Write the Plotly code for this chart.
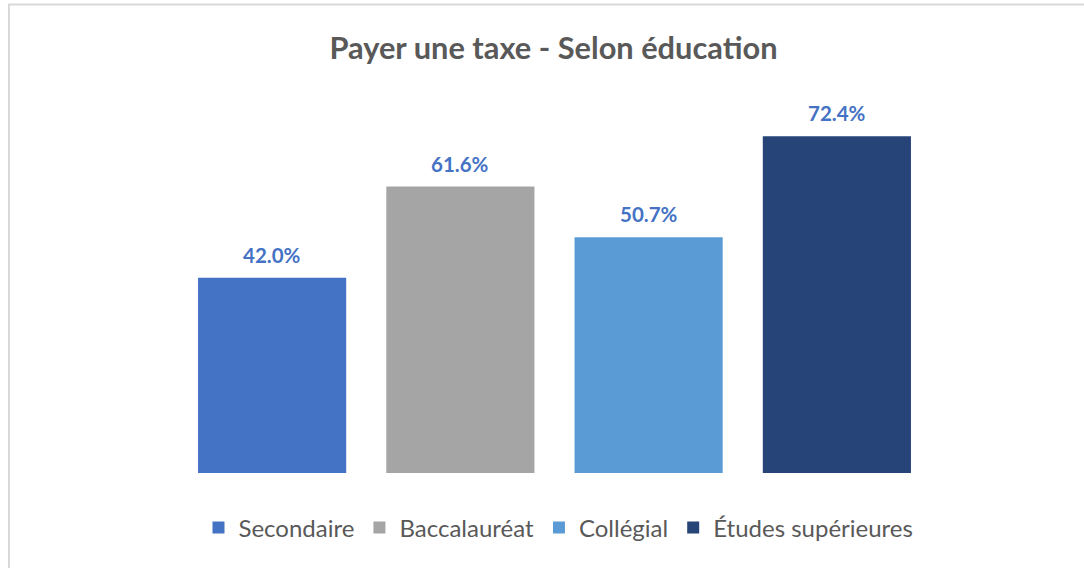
import plotly.graph_objects as go

categories = ["Secondaire", "Baccalauréat", "Collégial", "Études supérieures"]
values = [42.0, 61.6, 50.7, 72.4]
colors = ["#4472C4", "#A5A5A5", "#5B9BD5", "#264478"]
title_text = "Payer une taxe - Selon éducation"

W, H = 1084, 568
ml, mr, mt, mb = 178, 153, 101, 95

fig = go.Figure()
for cat, val, col in zip(categories, values, colors):
    fig.add_trace(go.Bar(
        x=[cat], y=[val], name=cat, marker=dict(color=col, line=dict(width=0)),
        width=0.787, hoverinfo="skip",
    ))
    fig.add_annotation(x=cat, y=val, text=f"{val:.1f}%", showarrow=False,
                       yanchor="bottom", yshift=9,
                       font=dict(family="Lato", size=20.5, color="#4472C4", weight="bold"))

pw = W - ml - mr
ph = H - mt - mb
def px2x(p):
    return (p - ml) / pw
def py2y(p):
    return 1 - (p - mt) / ph

fig.add_shape(type="line", xref="paper", yref="paper",
              x0=px2x(8), x1=px2x(1100), y0=py2y(4.5), y1=py2y(4.5),
              line=dict(color="#D9D9D9", width=2))
fig.add_shape(type="line", xref="paper", yref="paper",
              x0=px2x(9), x1=px2x(9), y0=py2y(4.5), y1=py2y(600),
              line=dict(color="#D9D9D9", width=2))

fig.update_layout(
    width=W, height=H,
    margin=dict(l=ml, r=mr, t=mt, b=mb),
    paper_bgcolor="white", plot_bgcolor="white",
    barmode="relative",
    title=dict(text=title_text, x=553.5 / W, xref="container", xanchor="center",
               y=1 - 48 / H, yref="container", yanchor="middle",
               font=dict(family="Lato", size=30.8, color="#595959", weight="bold")),
    xaxis=dict(visible=False, categoryorder="array", categoryarray=categories),
    yaxis=dict(visible=False, range=[0, 80]),
    legend=dict(orientation="h", x=(558.5 - ml) / pw, xanchor="center",
                y=-55 / ph, yanchor="middle",
                font=dict(family="Lato", size=24, color="#595959"),
                itemwidth=30, traceorder="normal"),
    showlegend=True,
)

fig.write_html("out.html", config={"displayModeBar": False},
               post_script="document.body.style.margin='0';")
